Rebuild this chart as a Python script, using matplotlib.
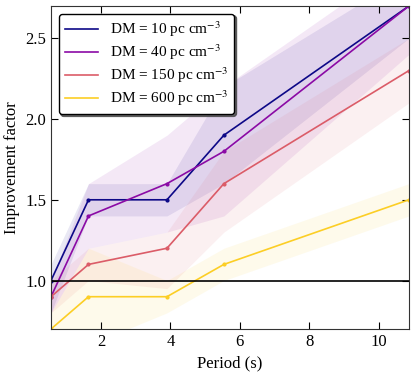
import matplotlib
matplotlib.use("Agg")
import matplotlib.pyplot as plt

plt.rcParams["font.family"] = "serif"
plt.rcParams["font.serif"] = ["Liberation Serif", "DejaVu Serif"]
plt.rcParams["mathtext.fontset"] = "stix"

# data
periods = [0.56, 1.64, 3.9, 5.54, 10.87]
dm_labels = ["10", "40", "150", "600"]
colors = ["#0d0887", "#8b0aa5", "#db5c68", "#fcce25"]

imp_10 = [1.0, 1.5, 1.5, 1.9, 2.7]
imp_40 = [0.9, 1.4, 1.6, 1.8, 2.7]
imp_150 = [0.9, 1.1, 1.2, 1.6, 2.3]
imp_600 = [0.7, 0.9, 0.9, 1.1, 1.5]

lo_10 = [0.8, 1.4, 1.4, 1.6, 2.5]
hi_10 = [1.1, 1.6, 1.6, 2.2, 2.9]
lo_40 = [0.8, 1.2, 1.3, 1.4, 2.4]
hi_40 = [1.0, 1.6, 1.9, 2.2, 3.0]
lo_150 = [0.8, 1.0, 0.95, 1.3, 2.1]
hi_150 = [1.0, 1.2, 1.3, 1.8, 2.5]
lo_600 = [0.6, 0.6, 0.8, 1.0, 1.4]
hi_600 = [0.8, 1.2, 1.0, 1.2, 1.6]

series = [imp_10, imp_40, imp_150, imp_600]
lows = [lo_10, lo_40, lo_150, lo_600]
highs = [hi_10, hi_40, hi_150, hi_600]

fig = plt.figure(figsize=(4.16, 3.74), dpi=100)
ax = fig.add_axes([0.1226, 0.1203, 0.8604, 0.8637])

for vals, lo, hi, c, lab in zip(series, lows, highs, colors, dm_labels):
    ax.fill_between(periods, lo, hi, color=c, alpha=0.09, linewidth=0)
    ax.plot(periods, vals, color=c, lw=1.2, label="DM = %s pc cm$^{-3}$" % lab)
    ax.plot(periods, vals, color=c, lw=0, marker="o", ms=2)

ax.axhline(1.0, color="black", lw=1.2)

ax.set_xlim(periods[0], periods[-1])
ax.set_ylim(0.7, 2.7)
ax.set_xticks([2, 4, 6, 8, 10])
ax.set_yticks([1.0, 1.5, 2.0, 2.5])
ax.tick_params(direction="in", top=True, right=True, labelsize=12, length=5)
for s in ax.spines.values():
    s.set_color("#333333")
ax.set_xlabel("Period (s)", fontsize=12)
ax.set_ylabel("Improvement factor", fontsize=12)

leg = ax.legend(loc="upper left", fontsize=11,
                shadow={"ox": 1.5, "oy": -1.5, "color": "#444444", "alpha": 0.8},
                fancybox=True, framealpha=1, edgecolor="black", handlelength=2.2,
                handletextpad=0.75, labelspacing=0.22)

fig.savefig("out.png", dpi=100)
